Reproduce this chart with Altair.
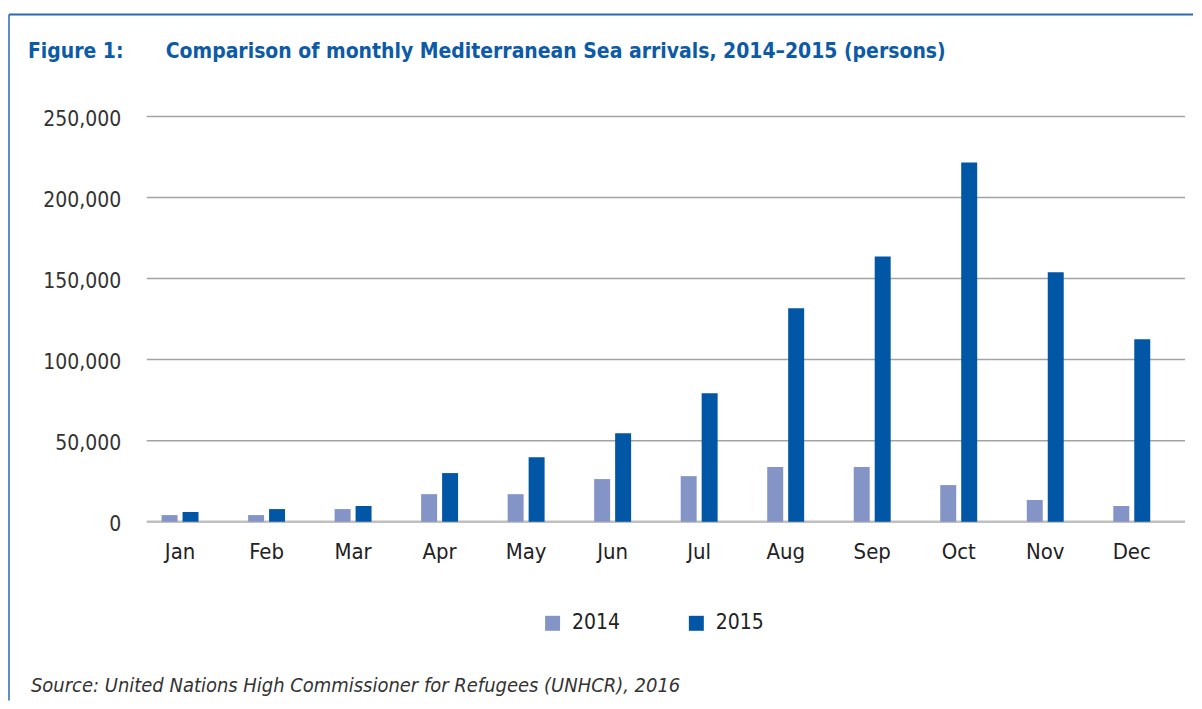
import altair as alt
import pandas as pd

months = ["Jan", "Feb", "Mar", "Apr", "May", "Jun", "Jul", "Aug", "Sep", "Oct", "Nov", "Dec"]
arrivals_2014 = [4100, 4100, 7800, 17000, 17000, 26300, 28100, 33700, 33700, 22600, 13400, 9700]
arrivals_2015 = [6000, 7800, 9700, 30000, 39800, 54600, 79300, 131600, 163600, 221500, 153800, 112500]
years = ["2014", "2015"]
y_ticks = [0, 50000, 100000, 150000, 200000, 250000]

title_label = "Figure 1:"
title_text = "Comparison of monthly Mediterranean Sea arrivals, 2014\u20132015 (persons)"
source_text = "Source: United Nations High Commissioner for Refugees (UNHCR), 2016"

C2014 = "#8494c7"
C2015 = "#0156a6"
BLUE = "#0d5aa7"
FONT = "DejaVu Sans Condensed, Open Sans, sans-serif"

W, H = 1040, 406

rows = []
for m, a, b in zip(months, arrivals_2014, arrivals_2015):
    rows.append({"month": m, "year": years[0], "value": a})
    rows.append({"month": m, "year": years[1], "value": b})
df = pd.DataFrame(rows)

grid_df = pd.DataFrame({"v": [t for t in y_ticks if t > 0]})
zero_df = pd.DataFrame({"v": [0]})

yscale = alt.Scale(domain=[0, 250000], nice=False)
yaxis = alt.Axis(title=None, grid=False, domain=False, ticks=False, values=y_ticks,
                 labelExpr="format(datum.value, ',')", labelFontSize=21,
                 labelFont=FONT, labelColor="#333333",
                 labelPadding=16, labelOffset=3)

bars = alt.Chart(df).mark_bar().encode(
    x=alt.X("month:N", sort=months, scale=alt.Scale(paddingInner=0.573, paddingOuter=0.2865),
            axis=alt.Axis(title=None, domain=False, ticks=False, labelAngle=0,
                          labelFontSize=22, labelFont=FONT, labelColor="#222222",
                          labelPadding=20)),
    xOffset=alt.XOffset("year:N", scale=alt.Scale(paddingInner=0.238, paddingOuter=0)),
    y=alt.Y("value:Q", scale=yscale, axis=yaxis),
    color=alt.Color("year:N", scale=alt.Scale(domain=years, range=[C2014, C2015]),
                    legend=alt.Legend(title=None, orient="none", legendX=406, legendY=497,
                                      direction="horizontal", symbolType="square",
                                      symbolSize=225, symbolStrokeWidth=0,
                                      labelFontSize=21, labelFont=FONT, labelColor="#222222",
                                      labelOffset=9, columnPadding=65)),
)

grid = alt.Chart(grid_df).mark_rule(color="#a3a3a3", strokeWidth=1.5).encode(
    y=alt.Y("v:Q", scale=yscale, axis=yaxis), x=alt.value(10), x2=alt.value(1050))
zero = alt.Chart(zero_df).mark_rule(color="#c0c0c0", strokeWidth=2.5).encode(
    y=alt.Y("v:Q", scale=yscale, axis=yaxis), x=alt.value(10), x2=alt.value(1050))

frame_left = alt.Chart(zero_df).mark_rule(color="#2a69b3", strokeWidth=1.5).encode(
    x=alt.value(-128), y=alt.value(-102), y2=alt.value(585))
frame_top = alt.Chart(zero_df).mark_rule(color="#2a69b3", strokeWidth=2).encode(
    x=alt.value(-128), x2=alt.value(1058), y=alt.value(-102))

t1 = alt.Chart(pd.DataFrame({"t": [title_label]})).mark_text(
    align="left", baseline="alphabetic", font=FONT, fontSize=21, fontWeight="bold", color=BLUE
).encode(text="t:N", x=alt.value(-109), y=alt.value(-59))
t2 = alt.Chart(pd.DataFrame({"t": [title_text]})).mark_text(
    align="left", baseline="alphabetic", font=FONT, fontSize=21, fontWeight="bold", color=BLUE
).encode(text="t:N", x=alt.value(29), y=alt.value(-59))
src = alt.Chart(pd.DataFrame({"t": [source_text]})).mark_text(
    align="left", baseline="alphabetic", font=FONT, fontSize=20, fontStyle="italic", color="#333333"
).encode(text="t:N", x=alt.value(-106), y=alt.value(577))

chart = alt.layer(grid, zero, bars, frame_left, frame_top, t1, t2, src).properties(
    width=W, height=H, background="white",
    padding={"left": 0, "top": 5, "right": 0, "bottom": 0}
).configure_view(stroke="transparent", strokeWidth=0)

chart.save("out.html", embed_options={"renderer": "svg", "actions": False})
